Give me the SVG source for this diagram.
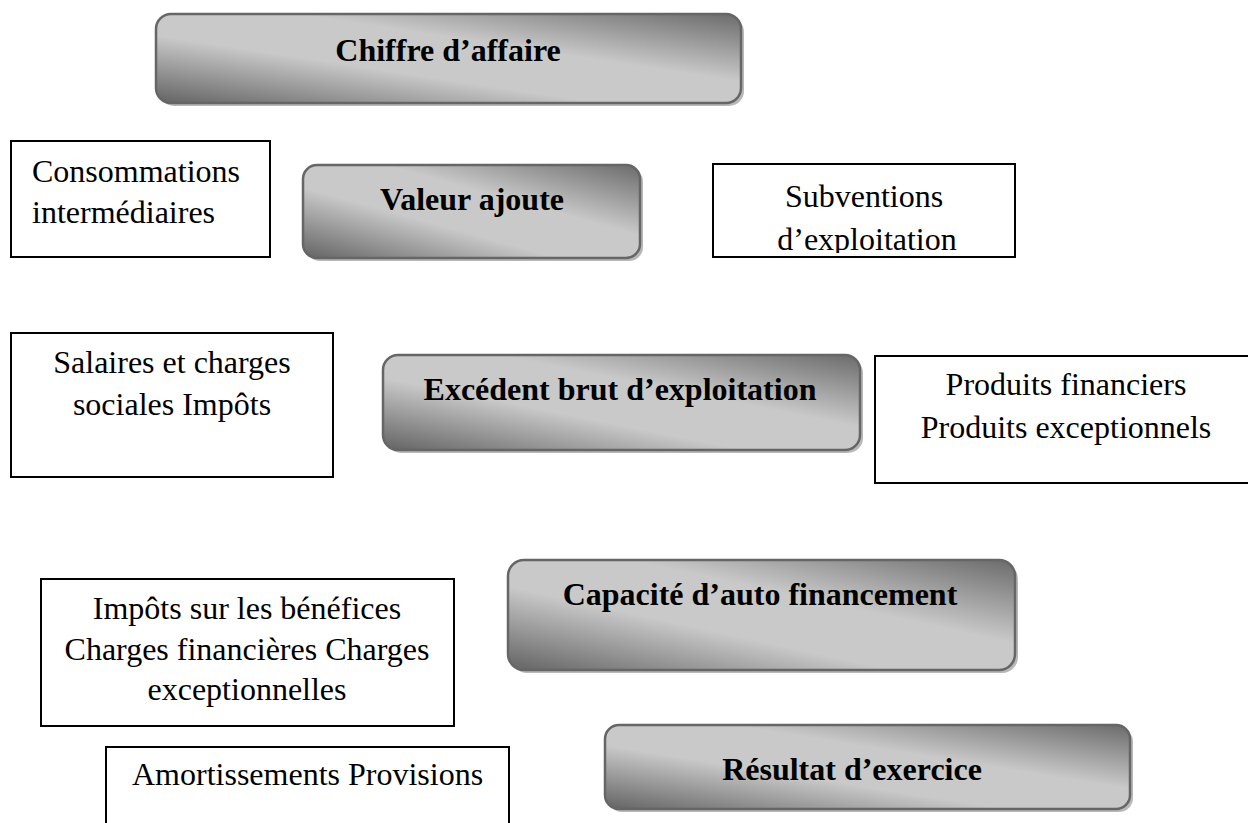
<svg xmlns="http://www.w3.org/2000/svg" width="1248" height="823" viewBox="0 0 1248 823">
<style>
.box{fill:#fff;stroke:#000;stroke-width:2}
.rbox{fill:url(#g);stroke:#666;stroke-width:2.5}
.sh{fill:#b8b8b8}
.t{font-family:"Liberation Serif","Times New Roman",serif;font-size:32px;fill:#000}
.b{font-family:"Liberation Serif","Times New Roman",serif;font-size:32px;font-weight:bold;fill:#000;text-anchor:middle}
.c{text-anchor:middle}
</style>
<defs>
<linearGradient id="g" x1="0" y1="1" x2="1" y2="0">
<stop offset="0" stop-color="#636363"/>
<stop offset="0.38" stop-color="#c9c9c9"/>
<stop offset="0.62" stop-color="#c9c9c9"/>
<stop offset="1" stop-color="#6b6b6b"/>
</linearGradient>
<clipPath id="clipSub"><rect x="713" y="165" width="302" height="88"/></clipPath>
</defs>
<rect width="1248" height="823" fill="#fff"/>
<g id="connectors"/>
<g id="chiffre">
<rect class="sh" x="159" y="17" width="585" height="89" rx="15"/>
<rect class="rbox" x="156" y="14" width="585" height="89" rx="15"/>
<text class="b" x="448" y="61">Chiffre d’affaire</text>
</g>
<g id="consommations">
<rect class="box" x="11" y="141" width="259" height="116"/>
<text class="t" x="32" y="182">Consommations</text>
<text class="t" x="32" y="223">intermédiaires</text>
</g>
<g id="valeur">
<rect class="sh" x="306" y="168" width="337" height="93" rx="14"/>
<rect class="rbox" x="303" y="165" width="337" height="93" rx="14"/>
<text class="b" x="472" y="210">Valeur ajoute</text>
</g>
<g id="subventions">
<rect class="box" x="713" y="164" width="302" height="93"/>
<g clip-path="url(#clipSub)">
<text class="t c" x="864" y="207">Subventions</text>
<text class="t c" x="867" y="250">d’exploitation</text>
</g>
</g>
<g id="salaires">
<rect class="box" x="11" y="333" width="322" height="144"/>
<text class="t c" x="172" y="373">Salaires et charges</text>
<text class="t c" x="172" y="415">sociales Impôts</text>
</g>
<g id="ebe">
<rect class="sh" x="386" y="358" width="477" height="95" rx="15"/>
<rect class="rbox" x="383" y="355" width="477" height="95" rx="15"/>
<text class="b" x="620" y="400">Excédent brut d’exploitation</text>
</g>
<g id="produits">
<rect class="box" x="875" y="356" width="380" height="127"/>
<text class="t c" x="1066" y="395">Produits financiers</text>
<text class="t c" x="1066" y="438">Produits exceptionnels</text>
</g>
<g id="impots">
<rect class="box" x="41" y="579" width="413" height="147"/>
<text class="t c" x="247" y="619">Impôts sur les bénéfices</text>
<text class="t c" x="247" y="660">Charges financières Charges</text>
<text class="t c" x="247" y="700">exceptionnelles</text>
</g>
<g id="caf">
<rect class="sh" x="511" y="563" width="507" height="110" rx="16"/>
<rect class="rbox" x="508" y="560" width="507" height="110" rx="16"/>
<text class="b" x="760" y="605">Capacité d’auto financement</text>
</g>
<g id="amortissements">
<rect class="box" x="106" y="747" width="403" height="100"/>
<text class="t" x="132" y="785">Amortissements Provisions</text>
</g>
<g id="resultat">
<rect class="sh" x="608" y="728" width="525" height="84" rx="14"/>
<rect class="rbox" x="605" y="725" width="525" height="84" rx="14"/>
<text class="b" x="852" y="780">Résultat d’exercice</text>
</g>
</svg>
